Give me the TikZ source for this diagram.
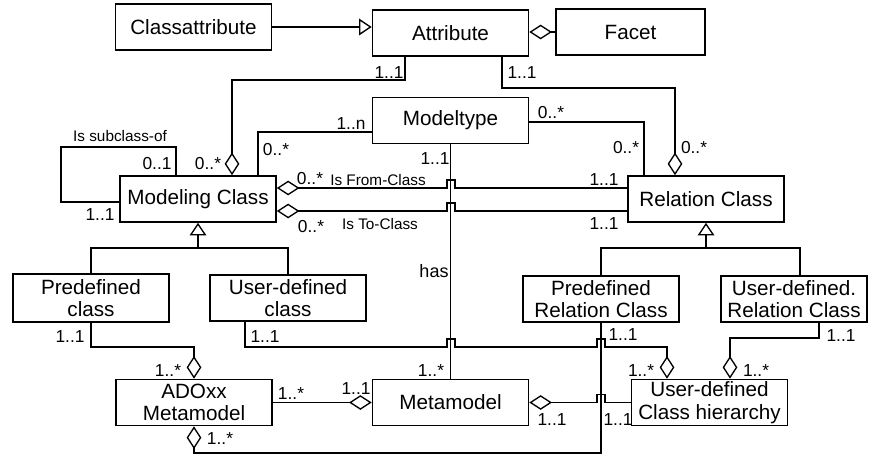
\documentclass[tikz,border=0pt]{standalone}
\usepackage{fontspec}
\setmainfont{Liberation Sans}
\usetikzlibrary{arrows.meta}

% small bump where a line jumps over another one
\newcommand{\hop}[2]{-- ({#1-4},#2) -- ({#1-4},{#2-8}) -- ({#1+4},{#2-8}) -- ({#1+4},#2)}

\begin{document}
\begin{tikzpicture}[x=0.75pt,y=-0.75pt,
	box/.style={draw, line width=1.2pt, minimum width=117pt, minimum height=34.5pt, inner sep=1pt, align=center, font=\fontsize{15.5}{17}\selectfont},
	mult/.style={inner sep=0pt, font=\fontsize{13}{14}\selectfont},
	role/.style={inner sep=0pt, font=\fontsize{11.5}{13}\selectfont},
	line/.style={line width=1pt},
	agg/.style={line, -{Diamond[fill=white, length=17pt, width=11pt]}},
	aggstart/.style={line, {Diamond[fill=white, length=17pt, width=11pt]}-},
	gen/.style={line, -{Triangle[fill=white, length=9.5pt, width=12.5pt]}}]
	\useasboundingbox (0,0) rectangle (870,457);

	\node (classattr) at (193.5,27) [box] {Classattribute};
	\node (attribute) at (450.5,33) [box] {Attribute};
	\node (facet) at (630.5,32) [box, minimum width=111.75pt] {Facet};
	\node (modeltype) at (450.5,120.5) [box] {Modeltype};
	\node (modclass) at (198,199) [box] {Modeling Class};
	\node (relclass) at (706,199) [box] {Relation Class};
		\node (predefclass) at (91,298) [box, minimum height=36pt] {Predefined\\class};
		\node (userclass) at (288,298) [box] {User-defined\\class};
		\node (predefrel) at (601,299) [box] {Predefined\\Relation Class};
		\node (userrel) at (794,299) [box, minimum width=109.5pt] {User-defined.\\Relation Class};
	\node (adoxx) at (194,402.5) [box] {ADOxx\\Metamodel};
	\node (metamodel) at (450.5,402.5) [box] {Metamodel};
	\node (hierarchy) at (709.5,402.5) [box] {User-defined\\Class hierarchy};

	% bends
	\coordinate (a1) at (405,80);	\coordinate (a2) at (232,80);
	\coordinate (b1) at (502,88);	\coordinate (b2) at (675,88);
	\coordinate (t1) at (258,132);	\coordinate (t2) at (644,122);
	\coordinate (lp1) at (176,147);	\coordinate (lp2) at (61,202);
	\coordinate (f) at (451,188);	\coordinate (o) at (451,211);
	\coordinate (g1) at (198,248);	\coordinate (g2) at (706,248);	\coordinate (g3) at (800,248);
	\coordinate (d1) at (91,347);
	\coordinate (u1) at (245,347);	\coordinate (u2) at (667,347);
	\coordinate (p1) at (601,453);	\coordinate (p2) at (194,453);
	\coordinate (r1) at (819,338);	\coordinate (r2) at (730,338);

	\draw[gen] (classattr.east) -- (classattr.east -| attribute.west);
	\draw[agg] (facet.west) -- (facet.west -| attribute.east);
	\draw[agg] (a1 |- attribute.south) -- (a1) -- (a2) -- (a2 |- modclass.north);
	\draw[agg] (b1 |- attribute.south) -- (b1) -- (b2) -- (b2 |- relclass.north);
	\draw[line] (t1 -| modeltype.west) -- (t1) -- (t1 |- modclass.north)
		  (t2 -| modeltype.east) -- (t2) -- (t2 |- relclass.north)
		  (modeltype.south) -- (metamodel.north);
	\draw[line] (lp1 |- modclass.north) -- (lp1) -- (lp1 -| lp2) -- (lp2) -- (lp2 -| modclass.west);
	\draw[aggstart] (f -| modclass.east) \hop{451}{188} -- (f -| relclass.west);
	\draw[aggstart] (o -| modclass.east) \hop{451}{211} -- (o -| relclass.west);
	\draw[gen] (g1) -- (modclass.south);
	\draw[line] (predefclass.north) |- (g1) -| (userclass.north);
	\draw[gen] (g2) -- (relclass.south);
	\draw[line] (predefrel.north) |- (g2) -- (g3) -- (g3 |- userrel.north);
	\draw[agg] (predefclass.south) -- (d1) -| (adoxx.north);
	\draw[agg] (u1 |- userclass.south) -- (u1) \hop{451}{347} \hop{601}{347} -- (u2) -- (u2 |- hierarchy.north);
	\draw[agg] (predefrel.south) -- (p1) -- (p2) -- (adoxx.south);
	\draw[agg] (r1 |- userrel.south) -- (r1) -- (r2) -- (r2 |- hierarchy.north);
	\draw[agg] (adoxx.east) -- (metamodel.west);
	\draw[aggstart] (metamodel.east) \hop{601}{402.5} -- (hierarchy.west);

	% multiplicities and roles
	\node (m1) at (389,73) [mult] {1..1};
	\node (m2) at (522,73) [mult] {1..1};
	\node (m3) at (208,164) [mult] {0..*};
	\node (m4) at (351,124) [mult] {1..n};
	\node (m5) at (276,150) [mult] {0..*};
	\node (m6) at (551,113) [mult] {0..*};
	\node (m7) at (626,148) [mult] {0..*};
	\node (m8) at (694,148) [mult] {0..*};
	\node (m9) at (435,159) [mult] {1..1};
	\node (subof) at (120,136) [role] {Is subclass-of};
	\node (m10) at (157,164) [mult] {0..1};
	\node (m11) at (100,215) [mult] {1..1};
	\node (m12) at (310,179) [mult] {0..*};
	\node (fromcl) at (378,180) [role] {Is From-Class};
	\node (m13) at (604,180) [mult] {1..1};
	\node (m14) at (311,227) [mult] {0..*};
	\node (tocl) at (380,224) [role] {Is To-Class};
	\node (m15) at (604,224) [mult] {1..1};
	\node (has) at (434,271) [mult, font=\fontsize{13.5}{15}\selectfont] {has};
	\node (m16) at (70,337) [mult] {1..1};
	\node (m17) at (265,337) [mult] {1..1};
	\node (m18) at (168,371) [mult] {1..*};
	\node (m19) at (220,439) [mult] {1..*};
	\node (m20) at (291,394) [mult] {1..*};
	\node (m21) at (356,389) [mult] {1..1};
	\node (m22) at (431,371) [mult] {1..*};
	\node (m23) at (552,420) [mult] {1..1};
	\node (m24) at (623,335) [mult] {1..1};
	\node (m25) at (641,371) [mult] {1..*};
	\node (m26) at (756,371) [mult] {1..*};
	\node (m27) at (841,336) [mult] {1..1};
	\node (m28) at (618,420) [mult] {1..1};
\end{tikzpicture}
\end{document}
